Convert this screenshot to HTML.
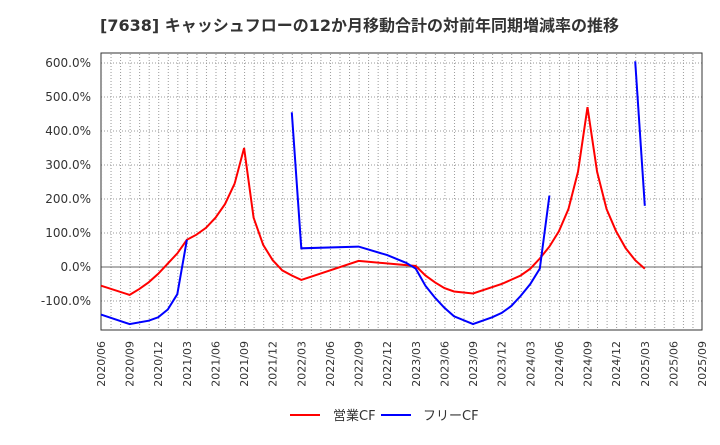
<!DOCTYPE html><html><head><meta charset="utf-8"><style>body{margin:0;background:#fff;}svg{font-family:"DejaVu Sans","Noto Sans CJK JP",sans-serif;}</style></head><body>
<svg width="720" height="440" xmlns="http://www.w3.org/2000/svg">
<defs><pattern id="vg" x="101" y="0" width="9.5397" height="440" patternUnits="userSpaceOnUse"><line x1="0.5" x2="0.5" y1="0" y2="440" stroke="#999" stroke-dasharray="1,2"/></pattern></defs>
<text x="100" y="31" font-size="16" font-weight="bold" fill="#333">[7638]  キャッシュフローの12か月移動合計の対前年同期増減率の推移</text>
<rect x="102" y="53" width="600" height="277" fill="url(#vg)"/>
<g stroke="#999" stroke-dasharray="1,2">
<line x1="101" x2="702" y1="63" y2="63"/><line x1="101" x2="702" y1="97" y2="97"/><line x1="101" x2="702" y1="131" y2="131"/><line x1="101" x2="702" y1="165" y2="165"/><line x1="101" x2="702" y1="199" y2="199"/><line x1="101" x2="702" y1="233" y2="233"/><line x1="101" x2="702" y1="301" y2="301"/>
</g>
<line x1="101" x2="702" y1="267" y2="267" stroke="#666"/>
<rect x="101" y="53" width="601" height="277" fill="none" stroke="#333"/>
<g font-size="12" text-anchor="end" fill="#333">
<text x="91" y="67">600.0%</text><text x="91" y="101">500.0%</text><text x="91" y="135">400.0%</text><text x="91" y="169">300.0%</text><text x="91" y="203">200.0%</text><text x="91" y="237">100.0%</text><text x="91" y="271">0.0%</text><text x="91" y="305">-100.0%</text>
</g>
<g font-size="11" text-anchor="end" fill="#333">
<text transform="translate(105,341) rotate(-90)">2020/06</text>
<text transform="translate(133.6,341) rotate(-90)">2020/09</text>
<text transform="translate(162.2,341) rotate(-90)">2020/12</text>
<text transform="translate(190.9,341) rotate(-90)">2021/03</text>
<text transform="translate(219.5,341) rotate(-90)">2021/06</text>
<text transform="translate(248.1,341) rotate(-90)">2021/09</text>
<text transform="translate(276.7,341) rotate(-90)">2021/12</text>
<text transform="translate(305.3,341) rotate(-90)">2022/03</text>
<text transform="translate(334,341) rotate(-90)">2022/06</text>
<text transform="translate(362.6,341) rotate(-90)">2022/09</text>
<text transform="translate(391.2,341) rotate(-90)">2022/12</text>
<text transform="translate(419.8,341) rotate(-90)">2023/03</text>
<text transform="translate(448.4,341) rotate(-90)">2023/06</text>
<text transform="translate(477,341) rotate(-90)">2023/09</text>
<text transform="translate(505.7,341) rotate(-90)">2023/12</text>
<text transform="translate(534.3,341) rotate(-90)">2024/03</text>
<text transform="translate(562.9,341) rotate(-90)">2024/06</text>
<text transform="translate(591.5,341) rotate(-90)">2024/09</text>
<text transform="translate(620.1,341) rotate(-90)">2024/12</text>
<text transform="translate(648.8,341) rotate(-90)">2025/03</text>
<text transform="translate(677.4,341) rotate(-90)">2025/06</text>
<text transform="translate(706,341) rotate(-90)">2025/09</text>
</g>
<g fill="none" stroke-width="2">
<polyline stroke="#f00" points="101,285.7 129.6,294.9 139.2,289.1 148.7,282.3 158.2,273.8 167.8,263.6 177.3,253.4 186.9,239.8 196.4,234.7 205.9,227.9 215.5,217.7 225,204.1 234.6,183.7 244.1,148 253.6,217.7 263.2,244.9 272.7,260.2 282.3,270.4 291.8,275.5 301.3,279.9 358.6,260.9 415.8,266 425.4,275.5 434.9,282.3 444.4,288.1 454,291.5 473,293.5 501.7,284 520.7,275.5 530.3,268.7 539.8,258.5 549.4,246.6 558.9,231.3 568.4,209.2 578,171.8 587.5,107.2 597.1,171.8 606.6,209.2 616.1,231.3 625.7,248.3 635.2,260.2 644.8,268.7"/>
<polyline stroke="#00f" points="101,314.6 129.6,324.1 148.7,320.7 158.2,317.3 167.8,309.5 177.3,294.2 186.9,239.8"/>
<polyline stroke="#00f" points="291.8,112.3 301.3,248.3 358.6,246.6 387.2,255.1 406.3,262.9 415.8,268.7 425.4,285.7 434.9,297.6 444.4,307.8 454,316.3 473,324.1 492.1,317.3 501.7,312.9 511.2,306.1 520.7,295.9 530.3,284 539.8,268.7 549.4,195.6"/>
<polyline stroke="#00f" points="635.2,61.3 644.8,205.8"/>
</g>
<line x1="290" x2="320" y1="415" y2="415" stroke="#f00" stroke-width="2"/><text x="333" y="420" font-size="13" fill="#333">営業CF</text>
<line x1="381" x2="411" y1="415" y2="415" stroke="#00f" stroke-width="2"/><text x="423" y="420" font-size="13" fill="#333">フリーCF</text>
</svg></body></html>
